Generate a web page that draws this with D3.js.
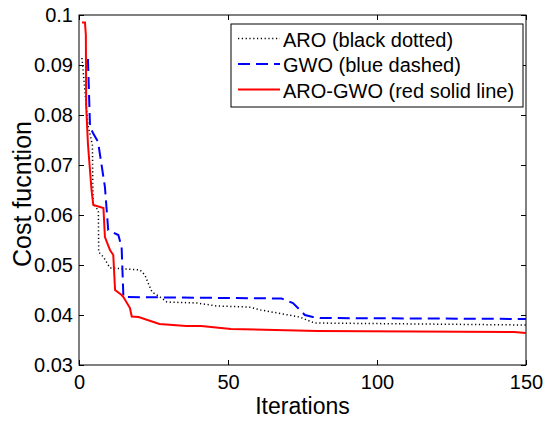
<!DOCTYPE html>
<html>
<head>
<meta charset="utf-8">
<script src="https://cdn.jsdelivr.net/npm/d3@7"></script>
<style>
  body { margin: 0; background: #fff; }
  svg { display: block; font-family: "Liberation Sans", Arial, Helvetica, sans-serif; }
</style>
</head>
<body>
<div id="chart"></div>
<script>
// Convergence curves: [iteration, cost]
const aroIter = [1, 3, 4.5, 4.7, 5.4, 6.5, 6.6, 8.2, 10.4, 20.5, 22.1, 23.2, 24.5, 27.2, 29.5, 39.6, 46.3, 57, 61, 74, 79, 150];
const aroCost = [0.0914, 0.078, 0.074, 0.0626, 0.0616, 0.061, 0.0526, 0.0516, 0.0494, 0.049, 0.048, 0.0464, 0.0446, 0.0436, 0.0426, 0.0424, 0.0418, 0.0416, 0.041, 0.0396, 0.0384, 0.038];

const gwoIter = [3, 3.7, 4.7, 6.4, 8.7, 9.8, 13.2, 14.3, 14.9, 68, 71.8, 75.8, 78.5, 81, 150];
const gwoCost = [0.0912, 0.0776, 0.0764, 0.0746, 0.0656, 0.057, 0.056, 0.0536, 0.0436, 0.0433, 0.0424, 0.040, 0.0396, 0.0394, 0.0392];

const hybIter = [1, 2, 2.3, 2.4, 3, 4.2, 4.8, 8.2, 8.7, 10.4, 11.5, 12.1, 14.3, 14.9, 17.1, 17.7, 20, 27, 36, 41, 51, 80, 146, 150];
const hybCost = [0.0985, 0.0985, 0.096, 0.082, 0.0742, 0.065, 0.062, 0.0614, 0.0556, 0.053, 0.052, 0.045, 0.044, 0.0436, 0.0414, 0.0397, 0.0396, 0.0382, 0.0378, 0.0378, 0.0372, 0.0368, 0.0366, 0.0364];

const xTicks = [0, 50, 100, 150];
const yTicks = [0.03, 0.04, 0.05, 0.06, 0.07, 0.08, 0.09, 0.1];
const legendNames = ["ARO (black dotted)", "GWO (blue dashed)", "ARO-GWO (red solid line)"];

const width = 550;
const height = 422;
const margin = { top: 15, right: 24, bottom: 57, left: 79 };
const innerW = width - margin.left - margin.right;
const innerH = height - margin.top - margin.bottom;

const svg = d3.select("#chart")
    .append("svg")
    .attr("width", width)
    .attr("height", height);

const g = svg.append("g")
    .attr("transform", `translate(${margin.left},${margin.top})`);

const x = d3.scaleLinear().domain([0, 150]).range([0, innerW]);
const y = d3.scaleLinear().domain([0.03, 0.1]).range([innerH, 0]);

const tickLen = 5;
const fmt = d3.format("");

// bottom / top axes (ticks pointing inward)
g.append("g")
    .attr("transform", `translate(0,${innerH})`)
    .call(d3.axisBottom(x).tickValues(xTicks).tickSize(-tickLen).tickPadding(10).tickFormat(fmt))
    .call(a => a.select(".domain").remove());
g.append("g")
    .call(d3.axisTop(x).tickValues(xTicks).tickSize(-tickLen).tickFormat(""))
    .call(a => a.select(".domain").remove());

// left / right axes
g.append("g")
    .call(d3.axisLeft(y).tickValues(yTicks).tickSize(-tickLen).tickPadding(6).tickFormat(d => fmt(+d.toFixed(2))))
    .call(a => a.select(".domain").remove());
g.append("g")
    .attr("transform", `translate(${innerW},0)`)
    .call(d3.axisRight(y).tickValues(yTicks).tickSize(-tickLen).tickFormat(""))
    .call(a => a.select(".domain").remove());

g.selectAll(".tick text")
    .attr("fill", "#000")
    .style("font-size", "20px");
g.selectAll(".tick line").attr("stroke", "#000");

// frame
g.append("rect")
    .attr("width", innerW)
    .attr("height", innerH)
    .attr("fill", "none")
    .attr("stroke", "#000")
    .attr("stroke-width", 1);

const series = [
    { iter: aroIter, cost: aroCost, color: "#000", dash: "1.2,2.6", w: 1.5 },
    { iter: gwoIter, cost: gwoCost, color: "#0000ff", dash: "12,6", w: 2 },
    { iter: hybIter, cost: hybCost, color: "#ff0000", dash: null, w: 2 }
];

const line = d3.line()
    .x(d => x(d[0]))
    .y(d => y(d[1]));

const plot = g.append("g");
series.forEach(s => {
    plot.append("path")
        .datum(s.iter.map((it, i) => [it, s.cost[i]]))
        .attr("d", line)
        .attr("fill", "none")
        .attr("stroke", s.color)
        .attr("stroke-width", s.w)
        .attr("stroke-dasharray", s.dash);
});

// legend
const lg = svg.append("g").attr("transform", "translate(231,24)");
lg.append("rect")
    .attr("width", 292)
    .attr("height", 83)
    .attr("fill", "#fff")
    .attr("stroke", "#000")
    .attr("stroke-width", 1);

legendNames.forEach((name, i) => {
    const s = series[i];
    const row = lg.append("g").attr("transform", `translate(0,${14.5 + i * 25.5})`);
    row.append("line")
        .attr("x1", 7).attr("x2", 49)
        .attr("stroke", s.color)
        .attr("stroke-width", s.w)
        .attr("stroke-dasharray", s.dash);
    row.append("text")
        .attr("x", 52)
        .attr("y", 8)
        .style("font-size", "20px")
        .text(name);
});

// axis labels
svg.append("text")
    .attr("x", margin.left + innerW / 2)
    .attr("y", 414)
    .attr("text-anchor", "middle")
    .style("font-size", "23px")
    .text("Iterations");

svg.append("text")
    .attr("transform", "translate(31,194) rotate(-90)")
    .attr("text-anchor", "middle")
    .style("font-size", "25px")
    .text("Cost fucntion");
</script>
</body>
</html>
